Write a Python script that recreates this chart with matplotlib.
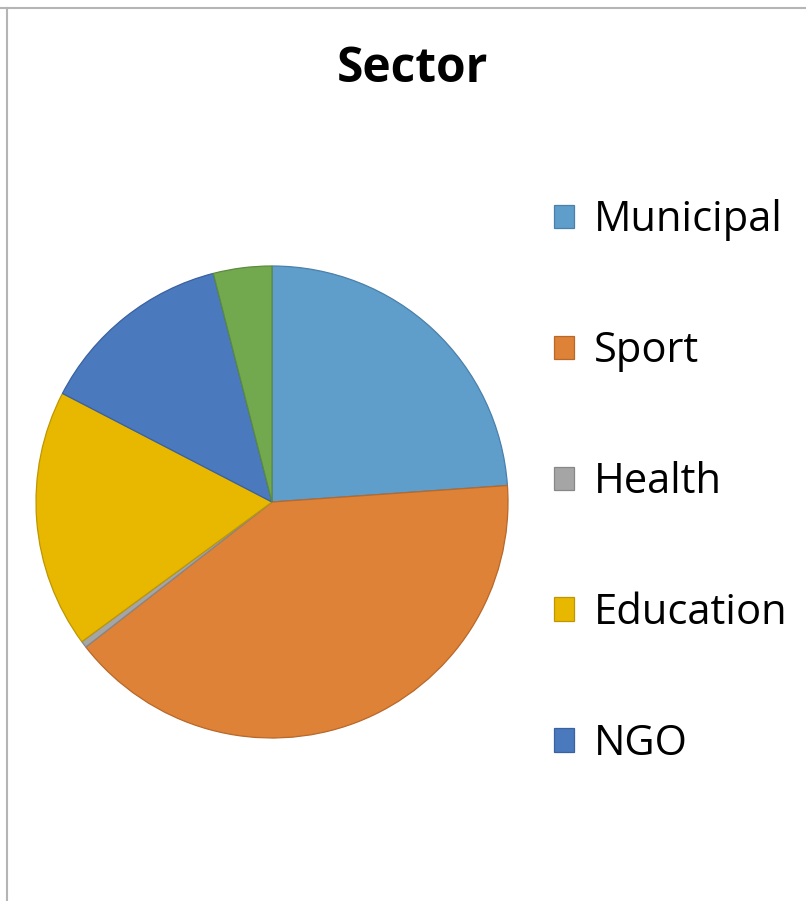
import matplotlib
matplotlib.use("Agg")
import matplotlib.pyplot as plt
from matplotlib.lines import Line2D

labels = ["Municipal", "Sport", "Health", "Education", "NGO", "Other"]
values = [23.9, 40.6, 0.45, 17.7, 13.4, 4.0]
colors = ["#5F9DCB", "#DD8236", "#A5A5A5", "#E8B800", "#4A79BD", "#72A94E"]
edges = ["#4A80AA", "#B8682A", "#878787", "#BE9700", "#3A61A0", "#5C8A3E"]
legend_labels = labels[:5]

W, H = 806, 901
fig = plt.figure(figsize=(W / 100, H / 100), dpi=100)
plt.rcParams['font.family'] = ['Open Sans', 'DejaVu Sans']

cx, cy, r = 272, 502, 236
ax = fig.add_axes([(cx - r) / W, (H - cy - r) / H, 2 * r / W, 2 * r / H])
wedges, _ = ax.pie(values, colors=colors, startangle=90, counterclock=False,
                   radius=1, wedgeprops=dict(linewidth=0.9))
for w, ec in zip(wedges, edges):
    w.set_edgecolor(ec)
ax.set_xlim(-1.0, 1.0)
ax.set_ylim(-1.0, 1.0)
ax.set_aspect('equal')
ax.axis('off')
for w in wedges:
    w.set_clip_on(False)

fig.text(412 / W, 1 - 70 / H, "Sector", ha='center', va='center',
         fontsize=34.5, fontweight='bold')

fs = 30
fig.legend(wedges[:5], legend_labels, loc='upper left',
           bbox_to_anchor=(554 / W, 1 - 199 / H), frameon=False,
           fontsize=fs, handlelength=0.48, handleheight=0.48,
           handletextpad=0.48, labelspacing=2.135, borderaxespad=0,
           borderpad=0)

fig.add_artist(Line2D([0, 1], [1 - 7.5 / H, 1 - 7.5 / H], transform=fig.transFigure,
                      color="#B5B5B5", linewidth=1.5))
fig.add_artist(Line2D([7.5 / W, 7.5 / W], [0, 1 - 7.5 / H], transform=fig.transFigure,
                      color="#B5B5B5", linewidth=1.5))

fig.savefig("out.png", dpi=100)
